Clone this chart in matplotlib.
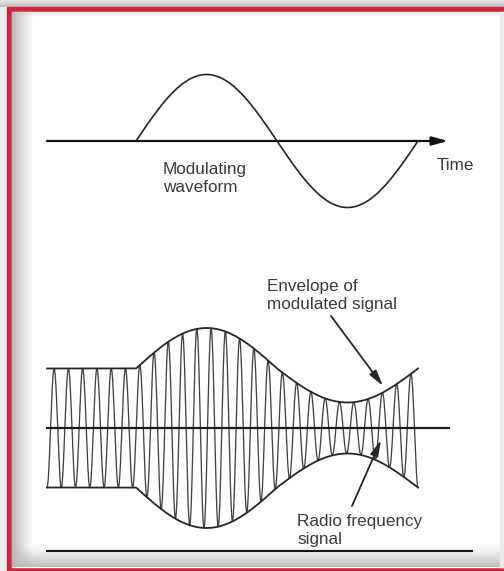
import matplotlib
matplotlib.use("Agg")
import matplotlib.pyplot as plt
import numpy as np
from matplotlib.patches import Rectangle

# diagram values (picture in pixel units, y grows downwards)
time_axis_x = [47, 448]
time_axis_y = 141
mod_start, mod_end = 136, 418       # one period of the modulating wave
mod_amp = 66.5

rf_axis_x = [47, 449]
rf_axis_y = 428
env_flat = 59.5                     # carrier amplitude with no modulation
env_up, env_down = 40.5, 34.0       # swing of the envelope above / below
carrier_cycles = 26
rf_start, rf_end = 47, 418

base_line_x = [47, 472]
base_line_y = 551

labels_mod = ["Modulating", "waveform"]
labels_env = ["Envelope of", "modulated signal"]
labels_rf = ["Radio frequency", "signal"]

W, H = 504, 571
fig = plt.figure(figsize=(W / 100, H / 100), dpi=100)
ax = fig.add_axes([0, 0, 1, 1])
ax.set_xlim(0, W)
ax.set_ylim(H, 0)
ax.axis("off")
fig.patch.set_facecolor("#eeeeee")

# ---- frame: grey outside, red border, white page with soft shadows
top_grad = np.linspace(0.9, 0.74, 20).reshape(-1, 1)
ax.imshow(top_grad, cmap="gray", vmin=0, vmax=1, extent=[0, W, 7, 0], aspect="auto", zorder=0)
ax.add_patch(Rectangle((7, 7), W + 10, H, color="#c9283d", zorder=1))
ax.add_patch(Rectangle((12, 12), W, 555, color="white", zorder=2))

shade = np.zeros((2, 60, 4))
shade[..., :3] = 0.7
shade[..., 3] = np.linspace(0.95, 0, 60)[None, :] ** 1.2
ax.imshow(shade, extent=[12, 34, 567, 12], aspect="auto", zorder=3, interpolation="bilinear")
shade_b = np.zeros((60, 2, 4))
shade_b[..., :3] = 0.72
shade_b[..., 3] = np.linspace(0, 0.95, 60)[:, None] ** 1.3
ax.imshow(shade_b, extent=[12, W, 567, 544], aspect="auto", zorder=3, interpolation="bilinear")
shade_t = np.zeros((20, 2, 4))
shade_t[..., :3] = 0.8
shade_t[..., 3] = np.linspace(0.5, 0, 20)[:, None]
ax.imshow(shade_t, extent=[12, W, 17, 12], aspect="auto", zorder=3, interpolation="bilinear")
ax.add_patch(Rectangle((500, 12), 4, 555, color="#ececec", zorder=3))

ink = "#262626"
txt = "#3a3a3a"
font = dict(family="Liberation Sans", fontsize=12.3, color=txt, zorder=6)

# ---- top: modulating waveform on a time axis
ax.annotate("", xy=(time_axis_x[1], time_axis_y), xytext=(time_axis_x[0], time_axis_y),
            arrowprops=dict(arrowstyle="-|>,head_length=0.95,head_width=0.26", mutation_scale=10,
                            lw=1.6, color="#111111", shrinkA=0, shrinkB=0), zorder=5)
xm = np.linspace(mod_start, mod_end, 600)
s = np.sin(2 * np.pi * (xm - mod_start) / (mod_end - mod_start))
ax.plot(xm, time_axis_y - mod_amp * s, color=ink, lw=1.2, zorder=5)

t = ax.text(437, 170, "Time", **font)
t.set_clip_path(Rectangle((0, 0), 472, H, transform=ax.transData))
ax.text(163, 174, labels_mod[0], **font)
ax.text(163, 192, labels_mod[1], **font)

# ---- bottom: amplitude modulated carrier
x = np.linspace(rf_start, rf_end, 6000)
phase = np.clip((x - mod_start) / (mod_end - mod_start), 0, None)
sm = np.where(x > mod_start, np.sin(2 * np.pi * phase), 0.0)
env = env_flat + np.where(sm > 0, env_up, env_down) * sm
period = (rf_end - rf_start) / carrier_cycles
carrier = -env * np.cos(2 * np.pi * (x - rf_start) / period)

ax.plot(x, rf_axis_y - carrier, color="#444444", lw=0.95, zorder=4)
ax.plot(x, rf_axis_y - env, color=ink, lw=1.3, zorder=5)
ax.plot(x, rf_axis_y + env, color=ink, lw=1.3, zorder=5)
ax.plot(rf_axis_x, [rf_axis_y, rf_axis_y], color="#1a1a1a", lw=1.6, zorder=5)

ax.text(267, 290.5, labels_env[0], **font)
ax.text(267, 309, labels_env[1], **font)
ax.annotate("", xy=(383, 386), xytext=(331, 316),
            arrowprops=dict(arrowstyle="-|>,head_length=0.95,head_width=0.24", mutation_scale=10,
                            lw=1.3, color=ink, shrinkA=0, shrinkB=0), zorder=6)

ax.text(297, 526, labels_rf[0], **font)
ax.text(297, 544, labels_rf[1], **font)
ax.annotate("", xy=(381, 440), xytext=(352, 506),
            arrowprops=dict(arrowstyle="-|>,head_length=0.95,head_width=0.24", mutation_scale=10,
                            lw=1.3, color=ink, shrinkA=0, shrinkB=0), zorder=6)

ax.plot(base_line_x, [base_line_y, base_line_y], color="#111111", lw=1.5, zorder=5)

fig.savefig("out.png", dpi=100)
